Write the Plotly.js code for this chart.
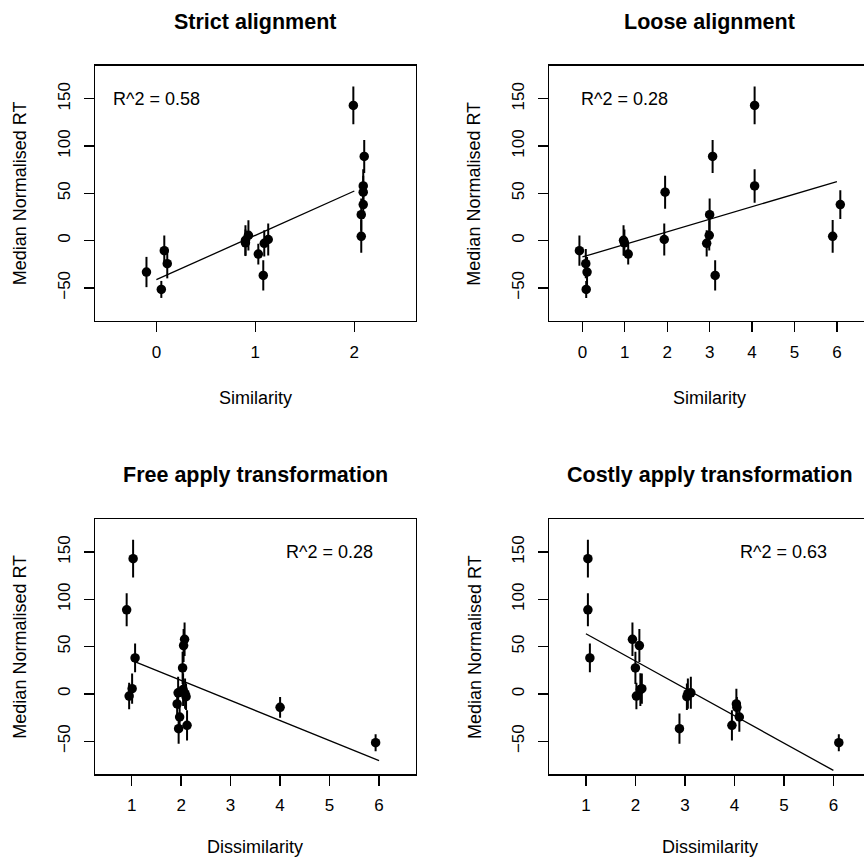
<!DOCTYPE html>
<html>
<head>
<meta charset="utf-8">
<script src="https://cdn.plot.ly/plotly-3.0.1.min.js"></script>
<style>
html, body { margin: 0; padding: 0; background: #ffffff; overflow: hidden; }
#chart { width: 864px; height: 859px; }
</style>
</head>
<body>
<div id="chart"></div>
<script>
// ---------------- DATA ----------------
// 18 items, same order in every panel
var rtValues = [143, 89, 57.8, 51.2, 38.1, 27.5, 4.6, 5.6, 0.3, 1.2, -2.3, -2.9, -14.2, -36.8, -10.6, -24.4, -33.2, -51.6];
var rtErrors = [20, 17.5, 17.8, 17.5, 15.3, 17, 17.3, 16, 16, 17, 14, 14, 11, 16, 16, 15.5, 16, 9];

var xStrict = [1.99, 2.10, 2.09, 2.09, 2.09, 2.07, 2.07, 0.93, 0.90, 1.13, 0.90, 1.09, 1.03, 1.08, 0.08, 0.11, -0.10, 0.05];
var xLoose  = [4.06, 3.07, 4.06, 1.95, 6.08, 3.00, 5.90, 2.99, 0.97, 1.93, 0.99, 2.93, 1.08, 3.13, -0.07, 0.08, 0.11, 0.09];
var xFree   = [1.03, 0.90, 2.07, 2.05, 1.07, 2.03, 2.04, 1.01, 2.08, 1.94, 0.95, 2.10, 4.00, 1.95, 1.92, 1.97, 2.12, 5.93];
var xCostly = [1.04, 1.04, 1.94, 2.08, 1.08, 2.00, 2.10, 2.13, 3.06, 3.12, 2.02, 3.04, 4.05, 2.89, 4.04, 4.10, 3.95, 6.11];

// fitted regression lines (end points)
var fitStrictX = [0, 2],  fitStrictY = [-41.3, 52.5];
var fitLooseX  = [0, 6],  fitLooseY  = [-17.3, 62.5];
var fitFreeX   = [1, 6],  fitFreeY   = [35.5, -70.5];
var fitCostlyX = [1, 6],  fitCostlyY = [63.6, -80.9];

var panelTitles = ['Strict alignment', 'Loose alignment', 'Free apply transformation', 'Costly apply transformation'];
var xAxisTitles = ['Similarity', 'Similarity', 'Dissimilarity', 'Dissimilarity'];
var yAxisTitle = 'Median Normalised RT';
var r2Labels = ['R^2 = 0.58', 'R^2 = 0.28', 'R^2 = 0.28', 'R^2 = 0.63'];
var r2LabelX = [0, 1, 5, 5];
var r2LabelY = [150, 150, 150, 150];

var xTicksStrict = [0, 1, 2];
var xTicksLoose = [0, 1, 2, 3, 4, 5, 6];
var xTicksDissim = [1, 2, 3, 4, 5, 6];
var yTicks = [-50, 0, 50, 100, 150];

var xLimits = [[-0.5, 2.5], [-0.5, 6.5], [0.5, 6.5], [0.5, 6.5]];
var yLimits = [-75, 175];

// ---------------- LAYOUT GEOMETRY ----------------
var W = 864, H = 859;
var FONT = 'Liberation Sans, Arial, Helvetica, sans-serif';
var boxLeft = [95, 549.3, 95, 549.3];
var boxTop = [65.7, 65.7, 519, 519];
var boxW = 320.7, boxH = 255.3;

function ext(lim) { var d = (lim[1] - lim[0]) * 0.04; return [lim[0] - d, lim[1] + d]; }
function px2x(px) { return px / W; }
function px2y(py) { return 1 - py / H; }
function tickText(v) { return v < 0 ? '\u2212' + String(-v) : String(v); }

var xsList = [xStrict, xLoose, xFree, xCostly];
var fitX = [fitStrictX, fitLooseX, fitFreeX, fitCostlyX];
var fitY = [fitStrictY, fitLooseY, fitFreeY, fitCostlyY];
var xTickList = [xTicksStrict, xTicksLoose, xTicksDissim, xTicksDissim];

var data = [];
var layout = {
  width: W, height: H,
  margin: {l: 0, r: 0, t: 0, b: 0, pad: 0},
  paper_bgcolor: '#ffffff', plot_bgcolor: '#ffffff',
  showlegend: false,
  font: {family: FONT, size: 17, color: '#000000'},
  annotations: []
};

var yr = ext(yLimits);
for (var i = 0; i < 4; i++) {
  var sfx = i === 0 ? '' : String(i + 1);
  var xr = ext(xLimits[i]);
  var pxPerUnit = boxW / (xr[1] - xr[0]);
  var rightPx = Math.min(boxLeft[i] + boxW, W);
  var clipped = (boxLeft[i] + boxW) > W;
  var xrUse = [xr[0], xr[0] + (rightPx - boxLeft[i]) / pxPerUnit];

  layout['xaxis' + sfx] = {
    domain: [px2x(boxLeft[i]), px2x(rightPx)],
    anchor: 'y' + sfx,
    range: xrUse,
    showgrid: false, zeroline: false,
    showline: true, linecolor: '#000000', linewidth: 1.3, mirror: true,
    ticks: 'outside', ticklen: 10, tickwidth: 1.3, tickcolor: '#000000',
    tickmode: 'array', tickvals: xTickList[i], ticktext: xTickList[i].map(tickText),
    tickfont: {family: FONT, size: 17, color: '#000000'},
    ticklabelstandoff: 5
  };
  layout['yaxis' + sfx] = {
    domain: [px2y(boxTop[i] + boxH), px2y(boxTop[i])],
    anchor: 'x' + sfx,
    range: yr,
    showgrid: false, zeroline: false,
    showline: true, linecolor: '#000000', linewidth: 1.3, mirror: clipped ? false : true,
    ticks: 'outside', ticklen: 10, tickwidth: 1.3, tickcolor: '#000000',
    tickmode: 'array', tickvals: yTicks, ticktext: yTicks.map(tickText),
    tickangle: -90,
    tickfont: {family: FONT, size: 17, color: '#000000'},
    ticklabelstandoff: 7
  };

  // regression line
  data.push({
    type: 'scatter', mode: 'lines',
    x: fitX[i], y: fitY[i],
    xaxis: 'x' + sfx, yaxis: 'y' + sfx,
    line: {color: '#000000', width: 1.3},
    hoverinfo: 'skip'
  });
  // points with error bars
  data.push({
    type: 'scatter', mode: 'markers',
    x: xsList[i], y: rtValues,
    xaxis: 'x' + sfx, yaxis: 'y' + sfx,
    marker: {color: '#000000', size: 9.5, symbol: 'circle'},
    error_y: {type: 'data', array: rtErrors, visible: true, width: 0, thickness: 2, color: '#000000'},
    cliponaxis: false
  });

  // panel title
  layout.annotations.push({
    xref: 'paper', yref: 'paper',
    x: px2x(boxLeft[i] + boxW / 2), y: px2y(boxTop[i] - 43.5),
    xanchor: 'center', yanchor: 'middle', showarrow: false,
    text: '<b>' + panelTitles[i] + '</b>',
    font: {family: FONT, size: 21.5, color: '#000000'}
  });
  // x-axis title (kept just inside the bottom edge)
  layout.annotations.push({
    xref: 'paper', yref: 'paper',
    x: px2x(boxLeft[i] + boxW / 2), y: px2y(Math.min(boxTop[i] + boxH + 76.5, H - 12)),
    xanchor: 'center', yanchor: 'middle', showarrow: false,
    text: xAxisTitles[i],
    font: {family: FONT, size: 18, color: '#000000'}
  });
  // y-axis title
  layout.annotations.push({
    xref: 'paper', yref: 'paper',
    x: px2x(boxLeft[i] - 75), y: px2y(boxTop[i] + boxH / 2),
    xanchor: 'center', yanchor: 'middle', showarrow: false,
    textangle: -90,
    text: yAxisTitle,
    font: {family: FONT, size: 18, color: '#000000'}
  });
  // R^2 label
  layout.annotations.push({
    xref: 'x' + sfx, yref: 'y' + sfx,
    x: r2LabelX[i], y: r2LabelY[i],
    xanchor: 'center', yanchor: 'middle', showarrow: false,
    text: r2Labels[i],
    font: {family: FONT, size: 18, color: '#000000'}
  });
}

Plotly.newPlot('chart', data, layout, {staticPlot: true, displayModeBar: false});
</script>
</body>
</html>
